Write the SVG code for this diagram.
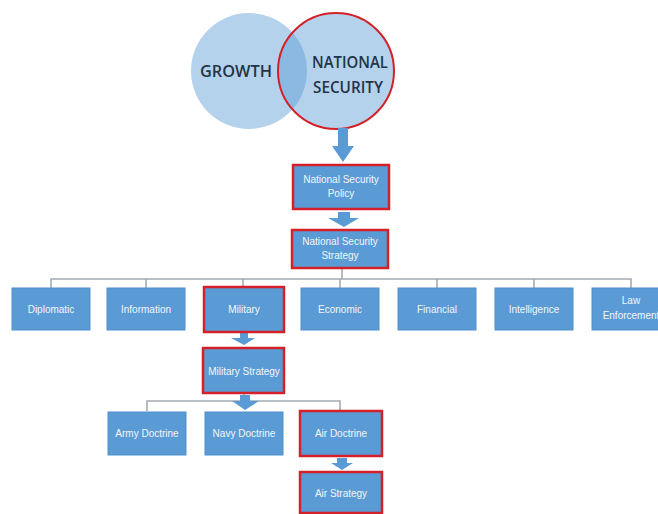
<svg xmlns="http://www.w3.org/2000/svg" width="658" height="514" viewBox="0 0 658 514">
<style>
.box{fill:#5b9bd5;stroke:#4f8fcb;stroke-width:1}
.hl{fill:#5b9bd5;stroke:#d42029;stroke-width:2.5}
.lbl{font-family:"Liberation Sans",Arial,sans-serif;font-size:10px;fill:#f2f6fb;text-anchor:middle}
.big{font-family:"Open Sans","Liberation Sans",sans-serif;font-size:17px;font-weight:600;fill:#243447;text-anchor:middle}
.con{fill:none;stroke:#a3abb3;stroke-width:1.6}
.arr{fill:#5b9bd5}
</style>
<g id="venn">
<circle cx="249" cy="71" r="58" fill="#5b9bd5" fill-opacity="0.45"/>
<circle cx="336" cy="71" r="58" fill="#5b9bd5" fill-opacity="0.45" stroke="#d42029" stroke-width="2"/>
<text class="big" x="236" y="77" textLength="72" lengthAdjust="spacingAndGlyphs">GROWTH</text>
<text class="big" x="350" y="68" textLength="76" lengthAdjust="spacingAndGlyphs">NATIONAL</text>
<text class="big" x="348" y="93" textLength="70" lengthAdjust="spacingAndGlyphs">SECURITY</text>
</g>
<g id="connectors">
<path class="con" d="M342 268V279M51 288V279H631V288M146 279V288M243 279V288M340 279V288M437 279V288M534 279V288"/>
<path class="con" d="M147 411V401H340V411M244 394V401"/>
<path class="arr" d="M338 128H348V146H354L343 162L332 146H338Z"/>
<path class="arr" d="M338 212H350V218H359L344 227L328 218H338Z"/>
<path class="arr" d="M240 333H248V338H255L244 345L231 338H240Z"/>
<path class="arr" d="M240 395H250V401H259L245 410L232 401H240Z"/>
<path class="arr" d="M337 458H347V463H353L342 470L331 463H337Z"/>
</g>
<g id="nsp"><rect class="hl" x="293" y="165" width="96" height="44"/>
<text class="lbl" x="341" y="183">National Security</text><text class="lbl" x="341" y="197">Policy</text></g>
<g id="nss"><rect class="hl" x="292" y="230" width="96" height="38"/>
<text class="lbl" x="340" y="245">National Security</text><text class="lbl" x="340" y="259">Strategy</text></g>
<g id="diplomatic"><rect class="box" x="12" y="288" width="78" height="42"/><text class="lbl" x="51" y="313">Diplomatic</text></g>
<g id="information"><rect class="box" x="107" y="288" width="78" height="42"/><text class="lbl" x="146" y="313">Information</text></g>
<g id="military"><rect class="hl" x="204" y="287" width="80" height="45"/><text class="lbl" x="244" y="313">Military</text></g>
<g id="economic"><rect class="box" x="301" y="288" width="78" height="42"/><text class="lbl" x="340" y="313">Economic</text></g>
<g id="financial"><rect class="box" x="398" y="288" width="78" height="42"/><text class="lbl" x="437" y="313">Financial</text></g>
<g id="intelligence"><rect class="box" x="495" y="288" width="78" height="42"/><text class="lbl" x="534" y="313">Intelligence</text></g>
<g id="law"><rect class="box" x="592" y="288" width="78" height="42"/><text class="lbl" x="631" y="304">Law</text><text class="lbl" x="631" y="319">Enforcement</text></g>
<g id="milstrat"><rect class="hl" x="203" y="348" width="81" height="45"/><text class="lbl" x="244" y="375">Military Strategy</text></g>
<g id="army"><rect class="box" x="108" y="412" width="78" height="43"/><text class="lbl" x="147" y="437">Army Doctrine</text></g>
<g id="navy"><rect class="box" x="205" y="412" width="78" height="43"/><text class="lbl" x="244" y="437">Navy Doctrine</text></g>
<g id="air"><rect class="hl" x="300" y="411" width="82" height="45"/><text class="lbl" x="341" y="437">Air Doctrine</text></g>
<g id="airstrat"><rect class="hl" x="300" y="472" width="82" height="41"/><text class="lbl" x="341" y="497">Air Strategy</text></g>
</svg>
